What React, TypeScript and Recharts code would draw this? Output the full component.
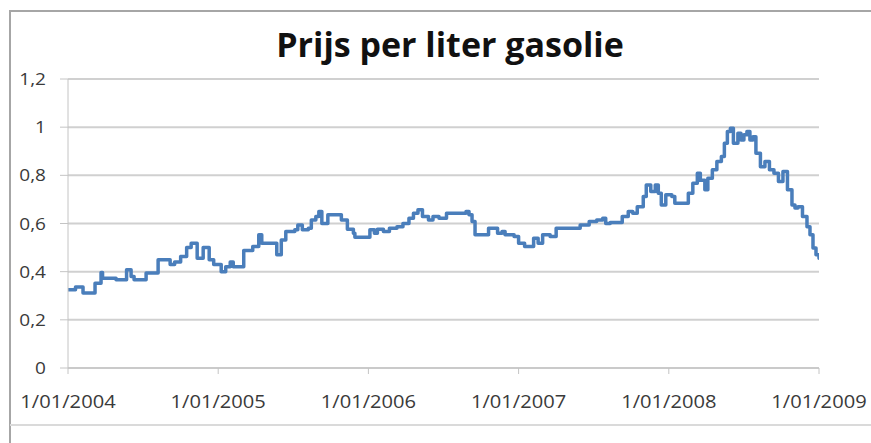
import React from "react";
import { LineChart, Line, XAxis, YAxis, CartesianGrid } from "recharts";

// tijd als decimaal jaartal, prijs in euro per liter
const jaar = [
  2004.0, 2004.05, 2004.1, 2004.18, 2004.22, 2004.23, 2004.32, 2004.39, 2004.42, 2004.44,
  2004.52, 2004.6, 2004.68, 2004.71, 2004.75, 2004.79, 2004.82, 2004.86, 2004.9, 2004.94,
  2004.97, 2005.02, 2005.05, 2005.08, 2005.1, 2005.17, 2005.23, 2005.27, 2005.29, 2005.39,
  2005.42, 2005.45, 2005.51, 2005.53, 2005.56, 2005.6, 2005.62, 2005.65, 2005.67, 2005.69,
  2005.73, 2005.82, 2005.86, 2005.9, 2005.91, 2006.01, 2006.04, 2006.06, 2006.1, 2006.14,
  2006.19, 2006.23, 2006.27, 2006.3, 2006.33, 2006.36, 2006.4, 2006.43, 2006.47, 2006.52,
  2006.65, 2006.67, 2006.69, 2006.71, 2006.8, 2006.86, 2006.89, 2006.91, 2006.97, 2007.0,
  2007.04, 2007.1, 2007.13, 2007.16, 2007.21, 2007.25, 2007.41, 2007.47, 2007.52, 2007.56,
  2007.58, 2007.61, 2007.69, 2007.73, 2007.76, 2007.79, 2007.83, 2007.85, 2007.88, 2007.91,
  2007.93, 2007.95, 2007.98, 2008.02, 2008.04, 2008.13, 2008.16, 2008.19, 2008.21, 2008.24,
  2008.26, 2008.29, 2008.32, 2008.35, 2008.37, 2008.39, 2008.41, 2008.43, 2008.46, 2008.48,
  2008.5, 2008.52, 2008.54, 2008.56, 2008.58, 2008.61, 2008.64, 2008.67, 2008.7, 2008.73,
  2008.76, 2008.79, 2008.82, 2008.84, 2008.86, 2008.89, 2008.92, 2008.94, 2008.96, 2008.98,
  2009.0,
];

const prijs = [
  0.325, 0.336, 0.311, 0.352, 0.397, 0.373, 0.366, 0.408, 0.38, 0.366,
  0.394, 0.449, 0.43, 0.44, 0.463, 0.5, 0.518, 0.456, 0.5, 0.449,
  0.43, 0.4, 0.42, 0.44, 0.42, 0.488, 0.505, 0.553, 0.518, 0.47,
  0.532, 0.567, 0.574, 0.594, 0.574, 0.58, 0.615, 0.629, 0.65, 0.6,
  0.636, 0.615, 0.576, 0.56, 0.543, 0.574, 0.56, 0.576, 0.567, 0.58,
  0.587, 0.6, 0.622, 0.643, 0.657, 0.629, 0.615, 0.629, 0.622, 0.643,
  0.65, 0.636, 0.608, 0.553, 0.58, 0.56, 0.567, 0.553, 0.546, 0.518,
  0.505, 0.539, 0.518, 0.553, 0.546, 0.58, 0.594, 0.608, 0.615, 0.622,
  0.6, 0.604, 0.629, 0.65, 0.643, 0.67, 0.712, 0.76, 0.733, 0.76,
  0.726, 0.677, 0.719, 0.712, 0.684, 0.726, 0.767, 0.809, 0.78, 0.74,
  0.788, 0.823, 0.857, 0.878, 0.933, 0.982, 0.995, 0.933, 0.975, 0.947,
  0.968, 0.982, 0.947, 0.96, 0.892, 0.836, 0.857, 0.823, 0.809, 0.774,
  0.816, 0.74, 0.677, 0.664, 0.67, 0.629, 0.587, 0.553, 0.498, 0.47,
  0.456,
];

const xTicks = [2004, 2005, 2006, 2007, 2008, 2009];
const yTicks = [0, 0.2, 0.4, 0.6, 0.8, 1, 1.2];

const data = jaar.map((j, i) => ({ jaar: j, prijs: prijs[i] }));

const labelColor = "#3a3a3a";
const font = "'Open Sans', sans-serif";

const YTick = (props: any) => {
  const { x, y, payload } = props;
  const label = String(Number(payload.value.toFixed(1))).replace(".", ",");
  return (
    <text
      transform={`translate(${x},${y}) scale(1.12,1)`}
      textAnchor="end"
      dy="0.36em"
      fontSize={17}
      fontFamily={font}
      fill={labelColor}
    >
      {label}
    </text>
  );
};

const XTick = (props: any) => {
  const { x, y, payload } = props;
  return (
    <text
      transform={`translate(${x},${y}) scale(1.06,1)`}
      textAnchor="middle"
      dy="0.71em"
      fontSize={19}
      fontFamily={font}
      fill={labelColor}
    >
      {"1/01/" + payload.value}
    </text>
  );
};

export default function App() {
  return (
    <div
      style={{
        position: "absolute",
        left: 0,
        top: 0,
        width: 871,
        height: 443,
        background: "#fff",
        overflow: "hidden",
      }}
    >
      {/* kader */}
      <div
        style={{
          position: "absolute",
          left: 9,
          top: 10,
          width: 870,
          height: 440,
          borderLeft: "2px solid #a6a6a6",
          borderTop: "2px solid #a6a6a6",
        }}
      />
      <div
        style={{
          position: "absolute",
          left: 10,
          top: 424,
          width: 861,
          height: 2,
          background: "#dadada",
        }}
      />
      <div
        style={{
          position: "absolute",
          left: 450,
          top: 27,
          transform: "translateX(-50%)",
          whiteSpace: "nowrap",
          fontFamily: font,
          fontWeight: 700,
          fontSize: 34,
          lineHeight: "34px",
          color: "#111",
        }}
      >
        Prijs per liter gasolie
      </div>
      <div style={{ position: "absolute", left: 0, top: 0 }}>
        <LineChart
          width={871}
          height={443}
          data={data}
          margin={{ top: 79, right: 52, bottom: 25, left: 0 }}
        >
          <CartesianGrid
            vertical={false}
            stroke="#d0d0d0"
            strokeWidth={2}
          />
          <XAxis
            dataKey="jaar"
            type="number"
            domain={[2004, 2009]}
            ticks={xTicks}
            allowDataOverflow
            height={50}
            tickSize={6}
            tickMargin={21}
            stroke="#c4c4c4"
            tick={<XTick />}
            interval={0}
          />
          <YAxis
            domain={[0, 1.2]}
            ticks={yTicks}
            width={68}
            tickSize={8}
            tickMargin={14}
            stroke="#c4c4c4"
            tick={<YTick />}
            interval={0}
          />
          <Line
            type="stepAfter"
            dataKey="prijs"
            stroke="#4a7ebb"
            strokeWidth={3.5}
            strokeLinejoin="round"
            strokeLinecap="round"
            dot={false}
            isAnimationActive={false}
          />
        </LineChart>
      </div>
    </div>
  );
}
